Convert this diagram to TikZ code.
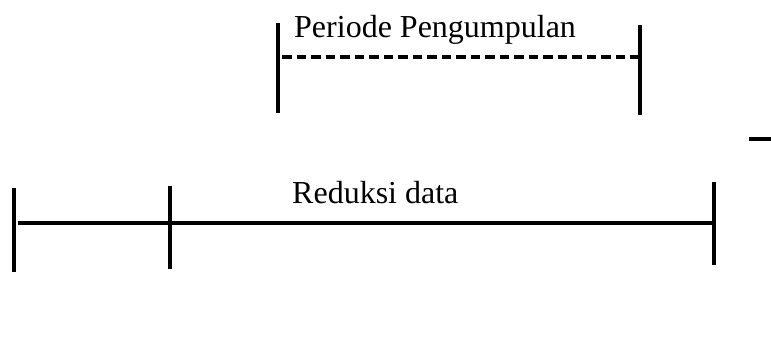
\documentclass[tikz,border=0pt]{standalone}
\usepackage{fontspec}
\setmainfont{Liberation Serif}
\begin{document}
\begin{tikzpicture}[x=1pt,y=-1pt,
  bar/.style={line width=4pt},
  tline/.style={line width=3.8pt},
  dline/.style={line width=3.6pt, dash pattern=on 9.5pt off 5pt, dash phase=-4pt},
  lbl/.style={font=\fontsize{32}{38}\selectfont, inner sep=0pt, anchor=base west}]
\useasboundingbox (0,0) rectangle (771,351);
% top period
\coordinate (p1t) at (278,23);
\coordinate (p1b) at (278,113);
\coordinate (p2t) at (640,25);
\coordinate (p2b) at (640,115);
\coordinate (d1) at (278,57);
\coordinate (d2) at (640,57);
\draw[bar] (p1t) -- (p1b);
\draw[bar] (p2t) -- (p2b);
\draw[dline] (d1) -- (d2);
\node[lbl] (periode) at (294,37) {Periode Pengumpulan};
% bottom
\coordinate (a1t) at (14,188);
\coordinate (a1b) at (14,272);
\coordinate (a2t) at (170,186);
\coordinate (a2b) at (170,269);
\coordinate (a3t) at (714,182);
\coordinate (a3b) at (714,265);
\coordinate (h1) at (18,223);
\coordinate (h2) at (714,223);
\draw[bar] (a1t) -- (a1b);
\draw[bar] (a2t) -- (a2b);
\draw[bar] (a3t) -- (a3b);
\draw[tline] (h1) -- (h2);
\node[lbl] (reduksi) at (292,203) {Reduksi data};
% short dash
\coordinate (s1) at (749,139);
\coordinate (s2) at (771,139);
\draw[tline] (s1) -- (s2);
\end{tikzpicture}
\end{document}
